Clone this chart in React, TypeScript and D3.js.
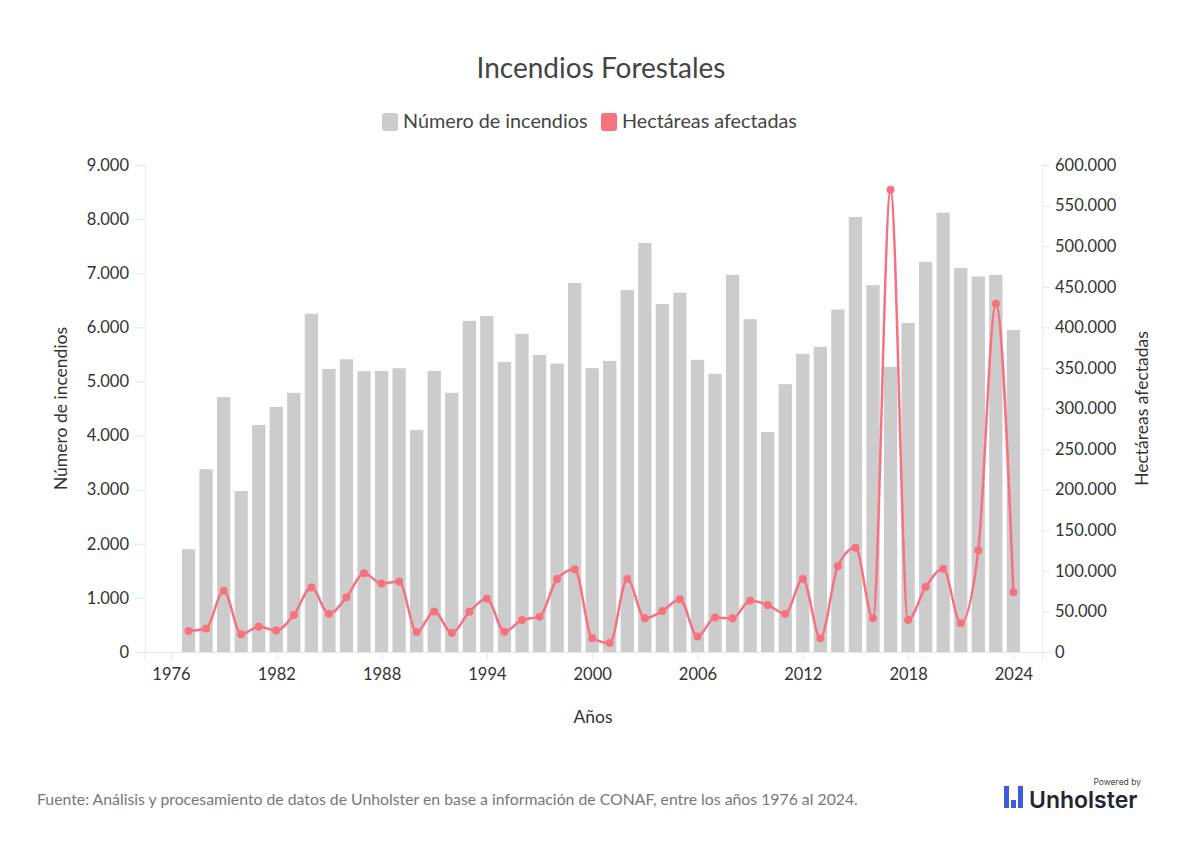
import * as React from 'react';
import * as d3 from 'd3';

// years shown on the chart
const years: number[] = d3.range(1977, 2025);

// number of fires per year (left axis)
const fires: number[] = [
  1900, 3380, 4710, 2975, 4195, 4530, 4790, 6250, 5230, 5410,
  5190, 5195, 5245, 4105, 5195, 4790, 6120, 6210, 5360, 5880,
  5490, 5330, 6820, 5245, 5380, 6690, 7560, 6430, 6640, 5400,
  5140, 6970, 6150, 4065, 4950, 5510, 5640, 6330, 8040, 6780,
  5270, 6080, 7210, 8120, 7100, 6940, 6970, 5950
];

// hectares burned per year (right axis)
const hectares: number[] = [
  26000, 29000, 75500, 22000, 31000, 26500, 45500, 79500, 47000, 67500,
  97000, 84500, 87000, 24500, 50000, 23500, 49500, 65500, 25000, 39500,
  43500, 90000, 102000, 17000, 11000, 90000, 41500, 50500, 65000, 19000,
  42500, 41500, 63000, 58000, 47000, 90000, 17000, 106000, 128500, 41500,
  569500, 39500, 80000, 102500, 35500, 125500, 429000, 73500
];

const xTicks: number[] = [1976, 1982, 1988, 1994, 2000, 2006, 2012, 2018, 2024];
const leftTicks: number[] = d3.range(0, 9001, 1000);
const rightTicks: number[] = d3.range(0, 600001, 50000);

const FONT = 'Lato, "Noto Sans", sans-serif';
const BAR_COLOR = '#cccccc';
const LINE_COLOR = '#f7717f';

const locale = d3.formatLocale({ decimal: ',', thousands: '.', grouping: [3], currency: ['$', ''] });
const fmt = locale.format(',d');

export default class App extends React.Component {
  private svgRef = React.createRef<SVGSVGElement>();

  public componentDidMount() {
    this.drawChart();
  }

  private drawChart = (): void => {
    const svg = d3.select(this.svgRef.current);
    svg.selectAll('*').remove();

    const left = 145;
    const right = 1042;
    const top = 165;
    const bottom = 652;

    const xScale = d3.scaleLinear().domain([1974.52, 2025.63]).range([left, right]);
    const yLeft = d3.scaleLinear().domain([0, 9000]).range([bottom, top]);
    const yRight = d3.scaleLinear().domain([0, 600000]).range([bottom, top]);
    const barWidth = 13.3;

    // title
    svg.append('text')
      .attr('x', 601)
      .attr('y', 78)
      .attr('text-anchor', 'middle')
      .attr('font-size', 28)
      .attr('fill', '#444')
      .text('Incendios Forestales');

    // legend
    const legend = [
      { label: 'Número de incendios', color: BAR_COLOR, x: 382 },
      { label: 'Hectáreas afectadas', color: LINE_COLOR, x: 601 }
    ];
    const lg = svg.append('g');
    legend.forEach(l => {
      lg.append('rect')
        .attr('x', l.x)
        .attr('y', 113)
        .attr('width', 16)
        .attr('height', 18)
        .attr('rx', 3)
        .attr('fill', l.color);
      lg.append('text')
        .attr('x', l.x + 21)
        .attr('y', 128)
        .attr('font-size', 19.8)
        .attr('fill', '#444')
        .text(l.label);
    });

    const g = svg.append('g').attr('font-family', FONT);

    // bars
    g.selectAll('.bar')
      .data(years)
      .enter()
      .append('rect')
      .attr('class', 'bar')
      .attr('x', d => xScale(d) - barWidth / 2)
      .attr('y', (d, i) => yLeft(fires[i]))
      .attr('width', barWidth)
      .attr('height', (d, i) => bottom - yLeft(fires[i]))
      .attr('fill', BAR_COLOR);

    // x-axis
    const xAxis = g.append('g')
      .attr('transform', `translate(0, ${bottom})`)
      .call(d3.axisBottom(xScale).tickValues(xTicks).tickFormat(d3.format('d')).tickSize(8).tickPadding(8));
    xAxis.select('.domain').attr('stroke', '#e6e6e6');

    // left axis
    const lAxis = g.append('g')
      .attr('transform', `translate(${left}, 0)`)
      .call(d3.axisLeft(yLeft).tickValues(leftTicks).tickFormat(d => fmt(d as number)).tickSize(10).tickPadding(6));
    lAxis.select('.domain').attr('stroke', '#eeeeee');

    // right axis
    const rAxis = g.append('g')
      .attr('transform', `translate(${right}, 0)`)
      .call(d3.axisRight(yRight).tickValues(rightTicks).tickFormat(d => fmt(d as number)).tickSize(8).tickPadding(5));
    rAxis.select('.domain').attr('stroke', '#eeeeee');

    [xAxis, lAxis, rAxis].forEach(a => {
      a.selectAll('.tick line').attr('stroke', '#e6e6e6');
      a.selectAll('.tick text')
        .attr('font-size', 16.5)
        .attr('fill', '#333')
        .attr('font-family', FONT);
    });

    // axis titles
    g.append('text')
      .attr('transform', `translate(67, ${(top + bottom) / 2}) rotate(-90)`)
      .attr('text-anchor', 'middle')
      .attr('font-size', 17.5)
      .attr('fill', '#333')
      .text('Número de incendios');
    g.append('text')
      .attr('transform', `translate(1148, ${(top + bottom) / 2}) rotate(-90)`)
      .attr('text-anchor', 'middle')
      .attr('font-size', 17.5)
      .attr('fill', '#333')
      .text('Hectáreas afectadas');
    g.append('text')
      .attr('x', 593)
      .attr('y', 723)
      .attr('text-anchor', 'middle')
      .attr('font-size', 17.5)
      .attr('fill', '#333')
      .text('Años');

    // line
    const line = d3.line<number>()
      .x(d => xScale(d))
      .y((d, i) => yRight(hectares[i]))
      .curve(d3.curveMonotoneX);
    g.append('path')
      .attr('d', line(years))
      .attr('fill', 'none')
      .attr('stroke', LINE_COLOR)
      .attr('stroke-width', 2.5);

    g.selectAll('.dot')
      .data(years)
      .enter()
      .append('circle')
      .attr('class', 'dot')
      .attr('r', 4)
      .attr('cx', d => xScale(d))
      .attr('cy', (d, i) => yRight(hectares[i]))
      .attr('fill', LINE_COLOR);

    // footer
    svg.append('text')
      .attr('x', 37)
      .attr('y', 805)
      .attr('font-size', 15.8)
      .attr('fill', '#777')
      .text('Fuente: Análisis y procesamiento de datos de Unholster en base a información de CONAF, entre los años 1976 al 2024.');

    // logo
    const logo = svg.append('g');
    logo.append('rect').attr('x', 1004).attr('y', 786).attr('width', 5).attr('height', 22).attr('fill', '#3d5ce0');
    logo.append('rect').attr('x', 1011).attr('y', 800).attr('width', 5).attr('height', 8).attr('fill', '#3d5ce0');
    logo.append('rect').attr('x', 1018).attr('y', 786).attr('width', 5).attr('height', 22).attr('fill', '#3d5ce0');
    logo.append('text')
      .attr('x', 1029)
      .attr('y', 808)
      .attr('font-size', 23)
      .attr('font-weight', 600)
      .attr('fill', '#222533')
      .attr('font-family', 'Inter, sans-serif')
      .text('Unholster');
    logo.append('text')
      .attr('x', 1141)
      .attr('y', 785)
      .attr('text-anchor', 'end')
      .attr('font-size', 8.5)
      .attr('fill', '#444')
      .attr('font-family', 'Inter, sans-serif')
      .text('Powered by');
  };

  public render() {
    return (
      <svg
        ref={this.svgRef}
        width={1200}
        height={867}
        fontFamily={FONT}
        style={{ position: 'absolute', left: 0, top: 0, background: '#fff' }}
      />
    );
  }
}
